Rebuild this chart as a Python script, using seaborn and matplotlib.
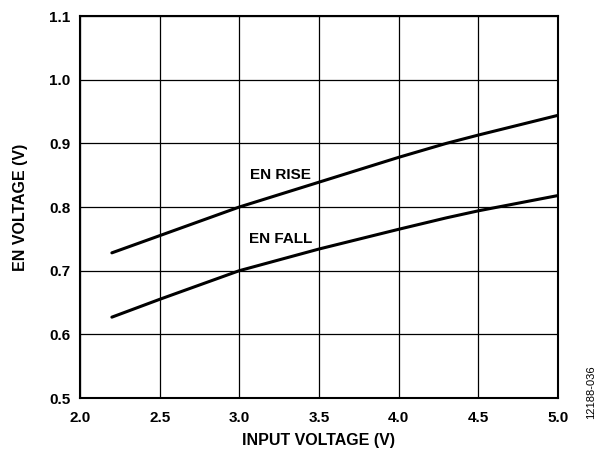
import pandas as pd
import numpy as np
import matplotlib
matplotlib.use('Agg')
import matplotlib.pyplot as plt
import seaborn as sns

# valeurs
vin = [2.2, 2.5, 3.0, 3.5, 4.0, 4.3, 4.5, 5.0]
en_rise = [0.728, 0.755, 0.800, 0.839, 0.878, 0.900, 0.913, 0.944]
en_fall = [0.627, 0.655, 0.700, 0.734, 0.765, 0.783, 0.794, 0.818]

x_ticks = [2.0, 2.5, 3.0, 3.5, 4.0, 4.5, 5.0]
y_ticks = [0.5, 0.6, 0.7, 0.8, 0.9, 1.0, 1.1]

df = pd.DataFrame({
    'Vin': vin * 2,
    'EN': en_rise + en_fall,
    'serie': ['EN RISE'] * len(vin) + ['EN FALL'] * len(vin),
})

sns.set_style('white')
plt.rcParams['font.family'] = ['Liberation Sans', 'DejaVu Sans']
plt.rcParams['text.color'] = 'black'
plt.rcParams['axes.labelcolor'] = 'black'
plt.rcParams['xtick.color'] = 'black'
plt.rcParams['ytick.color'] = 'black'

fig = plt.figure(figsize=(5.98, 4.51), dpi=100)
ax = fig.add_axes([0.1338, 0.1175, 0.7992, 0.847])

sns.lineplot(data=df, x='Vin', y='EN', units='serie', estimator=None,
             color='black', linewidth=2.2, legend=False, ax=ax)

ax.set_xlim(2.0, 5.0)
ax.set_ylim(0.5, 1.1)
ax.set_xticks(x_ticks)
ax.set_yticks(y_ticks)
ax.set_xticklabels([f'{t:.1f}' for t in x_ticks], fontweight='bold', fontsize=11)
ax.set_yticklabels([f'{t:.1f}' for t in y_ticks], fontweight='bold', fontsize=11)
ax.grid(True, color='black', linewidth=0.9)
ax.tick_params(axis='x', length=0, pad=9)
ax.tick_params(axis='y', length=0, pad=7)
for s in ax.spines.values():
    s.set_color('black')
    s.set_linewidth(1.5)

ax.set_xlabel('INPUT VOLTAGE (V)', fontweight='bold', fontsize=11.5, labelpad=6)
ax.set_ylabel('EN VOLTAGE (V)', fontweight='bold', fontsize=11.5, labelpad=15)

ax.text(3.26, 0.851, 'EN RISE', fontweight='bold', fontsize=11, ha='center', va='center')
ax.text(3.26, 0.749, 'EN FALL', fontweight='bold', fontsize=11, ha='center', va='center')

fig.text(0.988, 0.07, '12188-036', rotation=90, fontsize=8, ha='center', va='bottom')

fig.savefig('out.png', dpi=100)
